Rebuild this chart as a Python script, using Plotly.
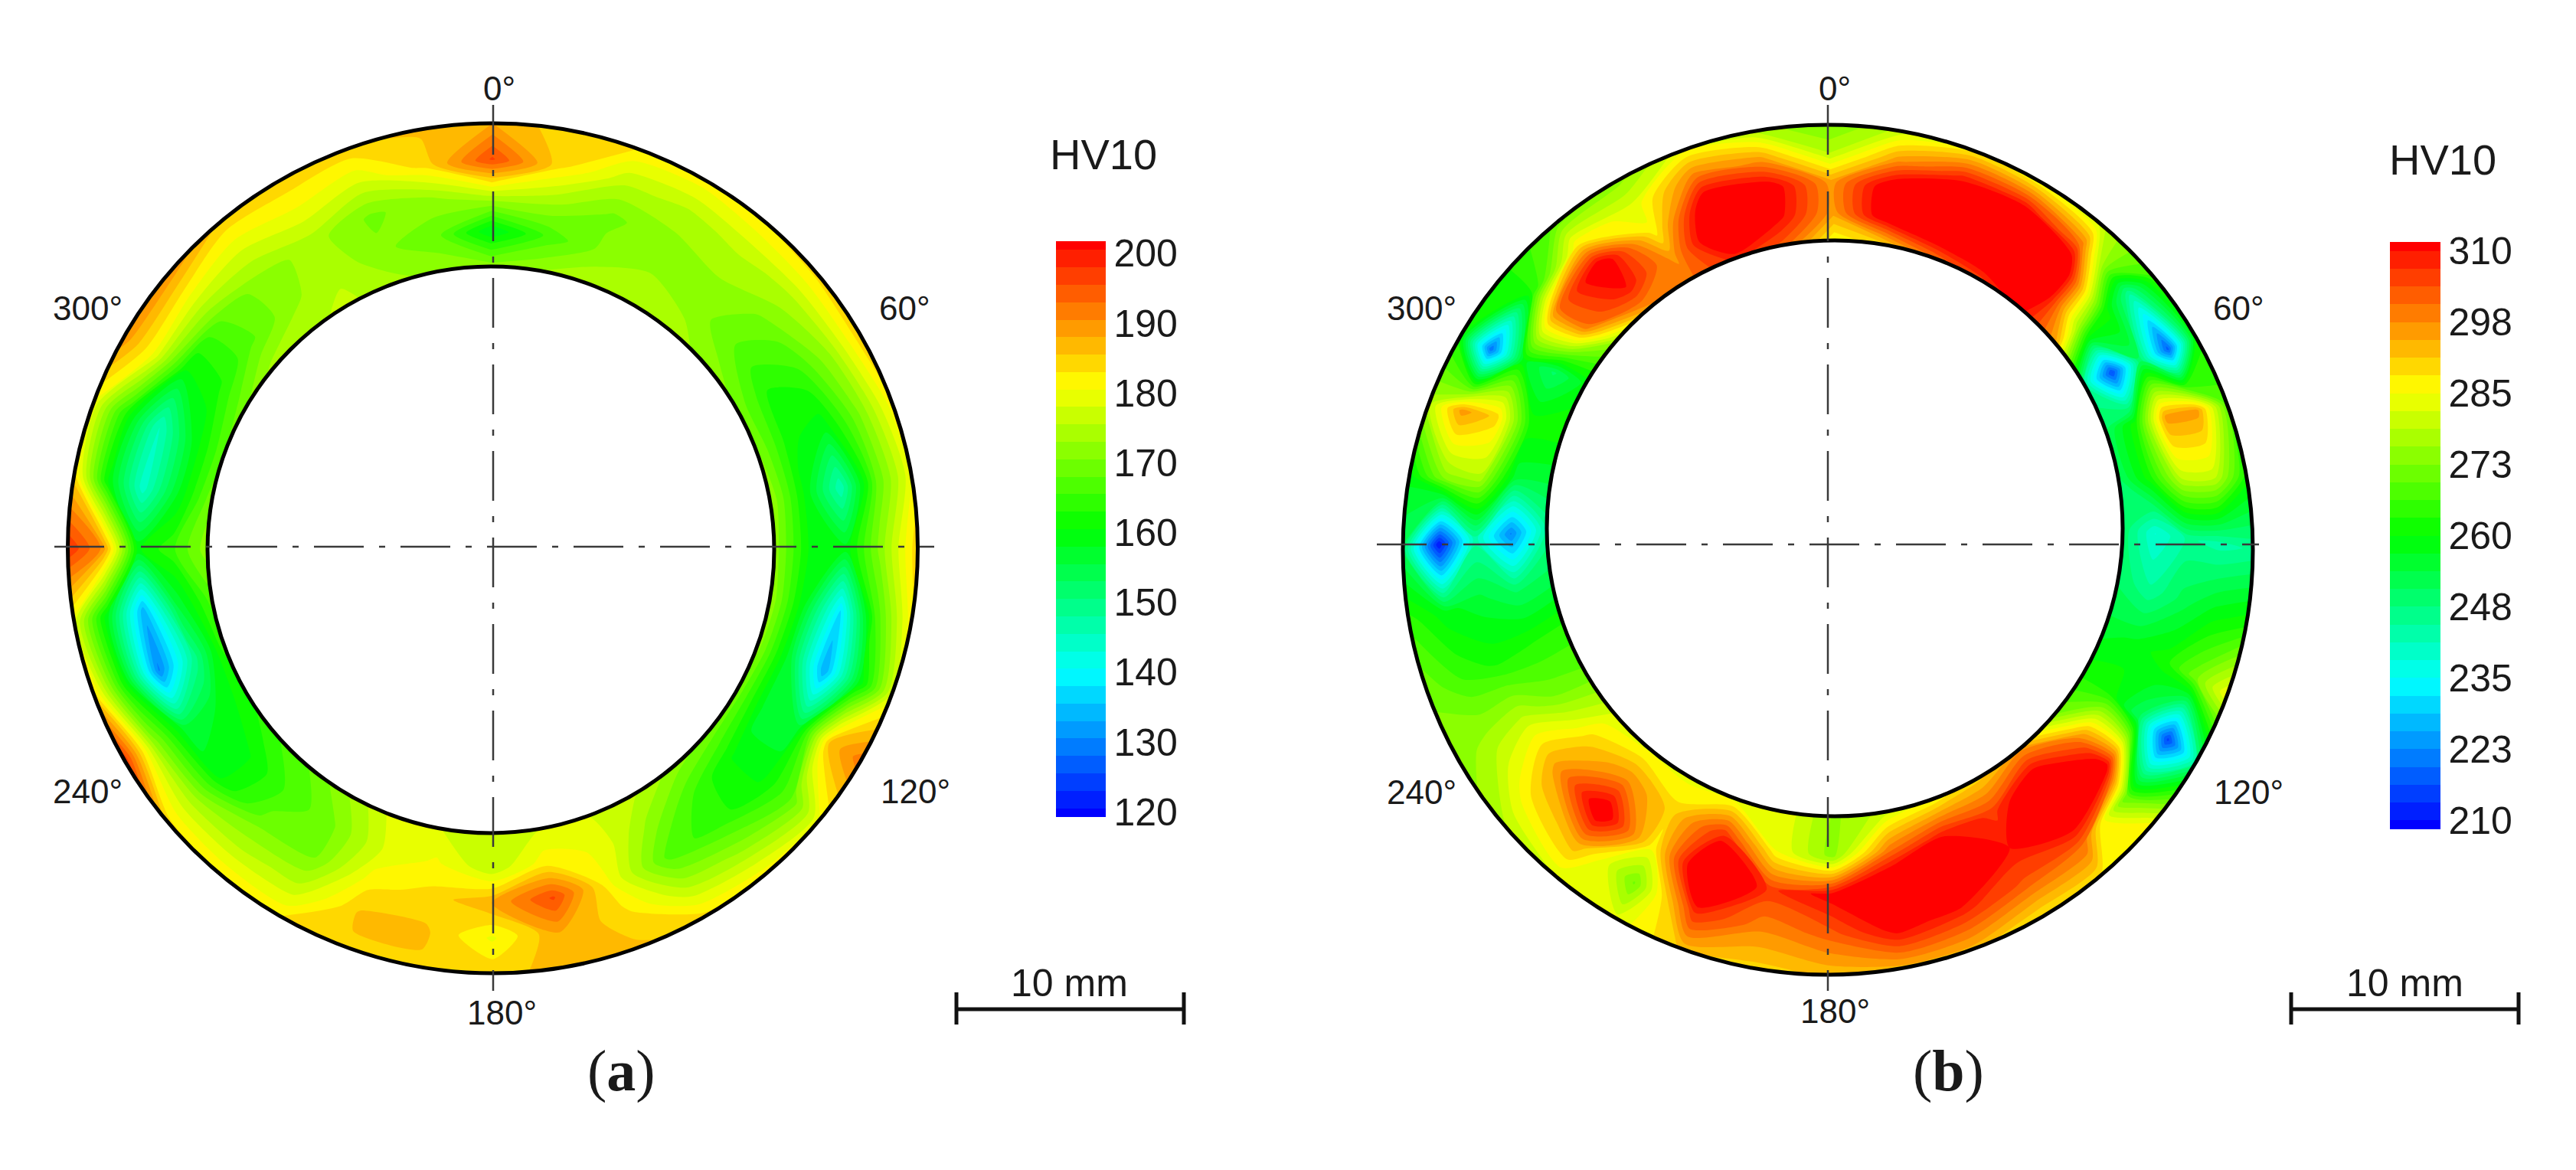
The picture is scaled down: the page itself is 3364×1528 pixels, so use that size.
import numpy as np
import plotly.graph_objects as go

W, H = 3364, 1528
PAGE_PAD = 8  # default body margin of the page

# measuring positions, clockwise from the top, inner edge -> outer edge
angles_deg = list(range(0, 360, 10))
ring_frac = [0, 0.25, 0.5, 0.75, 1]

# one row per angle, one value per ring position
hv_a = [
    [172, 158, 176, 196, 188], [173, 166, 174, 184, 184], [175, 171, 170, 176, 183],
    [175, 173, 172, 175, 182], [174, 172, 173, 176, 183], [172, 168, 170, 175, 184],
    [170, 163, 165, 173, 185], [171, 161, 159, 170, 182], [173, 160, 146, 168, 180],
    [172, 160, 159, 172, 185], [173, 158, 138, 166, 182], [172, 156, 133, 158, 178],
    [170, 156, 156, 186, 192], [170, 160, 160, 168, 180], [172, 165, 164, 172, 182],
    [176, 172, 167, 175, 184], [178, 180, 180, 184, 186], [178, 182, 196, 188, 186],
    [176, 176, 188, 180, 185], [178, 181, 184, 186, 185], [179, 178, 182, 186, 185],
    [173, 170, 170, 176, 183], [168, 166, 169, 175, 183], [165, 160, 160, 174, 184],
    [162, 158, 156, 172, 198], [165, 148, 130, 160, 184], [167, 156, 134, 158, 179],
    [172, 165, 160, 190, 198], [170, 158, 144, 160, 184], [168, 158, 145, 162, 180],
    [170, 162, 160, 180, 190], [174, 167, 168, 179, 190], [175, 172, 172, 178, 185],
    [176, 175, 174, 180, 185], [174, 171, 170, 178, 185], [172, 169, 172, 184, 186],
]
hv_b = [
    [285, 296, 296, 279, 272], [290, 316, 316, 296, 280], [300, 322, 322, 308, 287],
    [305, 322, 322, 310, 285], [312, 322, 322, 300, 280], [295, 275, 262, 245, 266],
    [245, 216, 250, 218, 262], [250, 262, 296, 296, 268], [250, 262, 280, 280, 262],
    [250, 238, 245, 243, 245], [250, 245, 252, 258, 262], [255, 258, 262, 272, 285],
    [262, 262, 250, 215, 245], [272, 300, 315, 268, 285], [296, 318, 322, 302, 288],
    [290, 306, 310, 303, 288], [285, 310, 325, 308, 293], [280, 300, 325, 312, 293],
    [275, 274, 312, 302, 292], [284, 285, 306, 298, 290], [283, 308, 325, 308, 292],
    [284, 290, 286, 272, 283], [284, 298, 316, 294, 282], [282, 290, 296, 288, 278],
    [270, 272, 279, 277, 274], [264, 263, 262, 266, 272], [252, 250, 255, 258, 265],
    [245, 222, 243, 210, 250], [255, 255, 278, 274, 258], [262, 262, 290, 296, 278],
    [258, 250, 258, 220, 262], [275, 300, 300, 262, 262], [296, 310, 316, 288, 270],
    [300, 296, 286, 283, 274], [308, 322, 318, 300, 284], [302, 312, 314, 296, 278],
]

ticks_a = [120, 130, 140, 150, 160, 170, 180, 190, 200]
ticks_b = [210, 222.5, 235, 247.5, 260, 272.5, 285, 297.5, 310]
ticktext_b = ["210", "223", "235", "248", "260", "273", "285", "298", "310"]
angle_labels = ["0°", "60°", "120°", "180°", "240°", "300°"]

rainbow = [[0, "#0000ff"], [0.25, "#00ffff"], [0.5, "#00ff00"], [0.75, "#ffff00"], [1, "#ff0000"]]
SANS = "Liberation Sans"
INK = "#1a1a1a"
PW, PH = W - 2 * PAGE_PAD, H - 2 * PAGE_PAD


def add_ring(fig, name, hv, outer, inner, levels, ticks, ticktext, bar):
    # bilinear carpet between the two (non concentric) circles
    th = np.radians(angles_deg + [360])
    t = np.array(ring_frac)[:, None]
    ox, oy, or_ = outer
    ix, iy, ir = inner
    x = (1 - t) * (ix + ir * np.sin(th)) + t * (ox + or_ * np.sin(th))
    y = (1 - t) * (iy - ir * np.cos(th)) + t * (oy - or_ * np.cos(th))
    z = np.array(hv, dtype=float).T
    z = np.hstack([z, z[:, :1]])

    hidden = dict(showgrid=False, showticklabels="none", startline=False, endline=False,
                  minorgridcount=0, smoothing=0)
    fig.add_trace(go.Carpet(carpet=name, a=angles_deg + [360], b=ring_frac, x=x, y=y,
                            aaxis=hidden, baxis=hidden))
    fig.add_trace(go.Contourcarpet(
        carpet=name, a=angles_deg + [360], b=ring_frac, z=z,
        colorscale=rainbow, autocontour=False,
        contours=dict(start=levels[0], end=levels[1], size=levels[2], coloring="fill"),
        line=dict(width=0, smoothing=0.7),
        colorbar=dict(x=(bar[0] - PAGE_PAD) / PW, xanchor="left", xpad=0, ypad=0,
                      y=1 - ((bar[1] + bar[2]) / 2 - PAGE_PAD) / PH, yanchor="middle",
                      len=bar[2] - bar[1], lenmode="pixels", thickness=bar[3],
                      thicknessmode="pixels", outlinewidth=0, ticks="", ticklen=0,
                      tickvals=ticks, ticktext=ticktext,
                      tickfont=dict(family=SANS, size=50, color=INK)),
    ))


fig = go.Figure()
add_ring(fig, "a", hv_a, (643.5, 716, 555), (641, 718, 370), (120.5, 200.5, 2.5),
         ticks_a, [str(v) for v in ticks_a], (1379, 315, 1067, 65))
add_ring(fig, "b", hv_b, (2387, 718, 555), (2396, 690, 376), (210, 310, 3.125),
         ticks_b, ticktext_b, (3121, 316, 1083, 66))

shapes = []
for cx, cy, r in [(643.5, 716, 555), (641, 718, 370), (2387, 718, 555), (2396, 690, 376)]:
    shapes.append(dict(type="circle", xref="x", yref="y", x0=cx - r, x1=cx + r, y0=cy - r, y1=cy + r,
                       line=dict(color="#000000", width=5), layer="above"))

# centre lines
for vx, hy, x0, x1 in [(644, 714, 71, 1220), (2387, 711, 1798, 2950)]:
    dash = "65px,20px,8px,20px"
    line = dict(color="#3a3a3a", width=2.5, dash=dash)
    shapes.append(dict(type="line", xref="x", yref="y", x0=vx, x1=vx, y0=137, y1=1294, line=line, layer="above"))
    shapes.append(dict(type="line", xref="x", yref="y", x0=x0, x1=x1, y0=hy, y1=hy, line=line, layer="above"))

# 10 mm scale bars
for x0, x1 in [(1249, 1546), (2992, 3289)]:
    bar_line = dict(color="#111111", width=5)
    shapes.append(dict(type="line", xref="x", yref="y", x0=x0, x1=x1, y0=1318, y1=1318, line=bar_line))
    for xe in (x0, x1):
        shapes.append(dict(type="line", xref="x", yref="y", x0=xe, x1=xe, y0=1296, y1=1338, line=bar_line))

annotations = []


def label(x, y, text, size=44, family=SANS):
    annotations.append(dict(x=x, y=y, xref="x", yref="y", text=text, showarrow=False,
                            xanchor="center", yanchor="middle",
                            font=dict(family=family, size=size, color=INK)))


pos_a = [(652, 115), (1181, 402), (1195, 1033), (655, 1322), (114, 1033), (114, 402)]
pos_b = [(2396, 115), (2923, 402), (2936, 1034), (2396, 1320), (1856, 1034), (1856, 402)]
for txt, pa, pb in zip(angle_labels, pos_a, pos_b):
    label(pa[0], pa[1], txt)
    label(pb[0], pb[1], txt)

label(1441, 201, "HV10", 56)
label(3190, 208, "HV10", 56)
label(1396, 1284, "10 mm", 50)
label(3140, 1284, "10 mm", 50)
label(811, 1398, "(<b>a</b>)", 76, "Liberation Serif")
label(2544, 1398, "(<b>b</b>)", 76, "Liberation Serif")

fig.update_layout(
    width=PW, height=PH, margin=dict(l=0, r=0, t=0, b=0, autoexpand=False),
    paper_bgcolor="white", plot_bgcolor="white", showlegend=False,
    xaxis=dict(range=[PAGE_PAD, W - PAGE_PAD], visible=False, domain=[0, 1]),
    yaxis=dict(range=[H - PAGE_PAD, PAGE_PAD], visible=False, domain=[0, 1]),
    shapes=shapes, annotations=annotations,
)
fig.write_html("out.html")
